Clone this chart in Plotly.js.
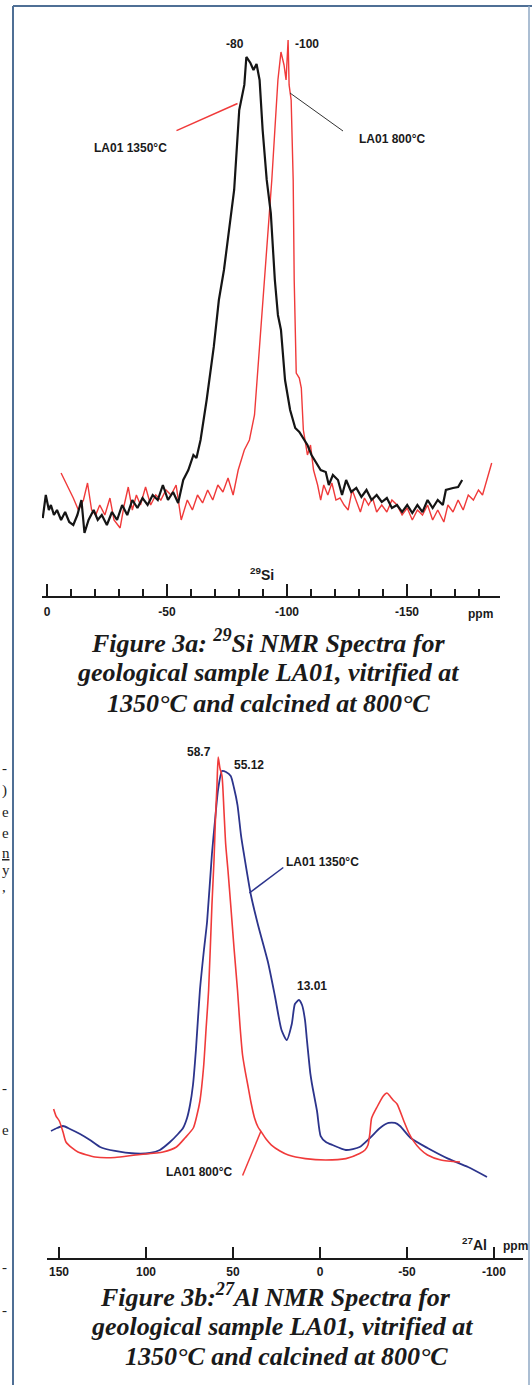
<!DOCTYPE html>
<html>
<head>
<meta charset="utf-8">
<script src="https://cdn.plot.ly/plotly-3.0.1.min.js"></script>
<style>
html,body{margin:0;padding:0;background:#fff;}
#chart{width:532px;height:1385px;}
</style>
</head>
<body>
<div id="chart"></div>
<script>
// ---------- 29Si spectra (ppm, relative intensity) ----------
const siPpm1350 = [1.77,0.50,-0.78,-1.63,-2.90,-4.17,-5.87,-7.56,-9.26,-10.96,-12.65,-14.35,-15.62,-17.32,-19.44,-21.14,-22.83,-24.95,-27.08,-29.20,-31.32,-33.44,-35.56,-37.68,-39.80,-41.92,-44.04,-46.16,-48.28,-50.41,-52.53,-54.65,-56.77,-58.89,-61.01,-62.28,-63.98,-66.52,-69.49,-71.61,-73.73,-75.85,-77.98,-80.10,-82.22,-83.07,-84.76,-86.04,-87.31,-88.58,-89.85,-91.55,-93.25,-94.94,-96.22,-97.49,-99.18,-101.30,-103.43,-105.13,-106.82,-108.52,-110.21,-111.91,-114.03,-116.15,-117.42,-119.12,-121.24,-122.94,-124.64,-126.76,-128.88,-131.00,-133.12,-135.24,-137.36,-139.48,-141.60,-143.72,-145.84,-147.96,-150.08,-152.21,-154.33,-156.45,-158.57,-160.69,-162.81,-164.93,-166.20,-169.17,-171.29,-172.99];
const siInt1350 = [14.45,18.71,15.93,16.86,15.0,15.93,14.08,15.56,13.71,13.15,15.0,17.78,11.67,14.08,15.93,14.08,15.0,13.15,15.56,14.08,16.86,15.0,17.78,16.30,18.15,16.86,18.71,17.78,20.56,17.78,19.27,17.23,21.49,23.34,26.12,25.57,28.9,36.31,46.13,54.83,60.39,67.80,75.21,90.03,94.67,99.85,98.74,97.44,98.55,95.59,86.33,77.07,70.95,58.54,52.06,49.28,40.01,34.46,31.12,30.38,29.27,27.97,26.12,24.82,23.34,22.97,20.56,22.42,21.49,18.71,21.49,19.27,20.01,18.34,19.64,17.78,18.71,17.41,18.15,16.30,16.86,15.56,16.86,15.37,16.86,15.56,17.78,16.30,17.78,16.86,19.64,20.01,20.19,21.49];

const siPpm800 = [-5.87,-8.41,-10.96,-13.08,-15.20,-16.89,-18.59,-20.29,-21.98,-24.11,-26.23,-27.92,-30.47,-32.17,-33.86,-35.56,-37.25,-38.95,-41.07,-43.19,-45.31,-47.43,-49.56,-51.68,-53.80,-55.92,-58.46,-60.59,-62.71,-64.83,-66.95,-69.07,-71.19,-73.31,-75.43,-77.55,-79.67,-82.22,-84.34,-86.46,-88.58,-90.70,-92.40,-93.67,-94.94,-96.22,-97.49,-98.76,-99.61,-100.46,-100.88,-101.73,-102.58,-103.00,-103.85,-105.13,-105.97,-106.82,-108.52,-109.79,-111.06,-112.76,-114.03,-115.31,-117.00,-118.70,-120.39,-122.09,-123.79,-125.48,-127.18,-128.88,-130.58,-132.27,-133.97,-135.66,-137.36,-139.48,-141.60,-143.72,-145.84,-147.96,-150.08,-152.21,-154.33,-156.45,-158.57,-160.69,-162.81,-165.35,-167.05,-169.17,-171.29,-173.41,-175.53,-177.66,-179.78,-181.47,-183.17,-185.29];
const siInt800 = [22.79,20.56,18.15,15.93,17.78,20.93,15.93,15.0,16.86,15.0,18.15,14.08,12.60,16.86,20.19,15.93,18.71,16.86,20.19,16.86,18.71,17.78,19.64,18.71,20.56,14.08,17.78,15.93,18.71,17.23,19.64,17.78,20.56,19.27,21.86,18.71,23.34,27.05,28.9,33.53,46.13,60.39,69.66,77.07,86.33,95.59,100.78,98.37,95.59,103.0,94.67,91.89,77.07,58.54,41.31,40.38,38.53,30.75,26.12,27.97,23.34,20.56,17.78,20.56,18.71,20.93,17.78,18.15,16.86,15.93,19.64,17.78,15.56,18.15,16.86,18.15,15.56,16.86,15.56,17.78,16.86,15.0,16.30,14.08,15.93,15.0,16.86,14.08,15.93,13.71,16.86,15.56,17.78,15.93,18.71,17.78,19.64,18.71,21.49,24.64];

// ---------- 27Al spectra (ppm, relative intensity) ----------
const alPpm1350 = [154.6,151.1,147.7,143.7,137.9,132.2,126.4,117.8,106.3,97.7,92.0,86.2,81.6,78.7,76.4,74.7,73.0,71.3,69.0,66.7,64.9,62.1,60.3,58.6,56.3,54.0,51.3,49.4,47.4,45.4,43.7,39.7,35.6,29.9,25.9,22.1,19.1,16.2,14.4,12.1,10.3,8.6,7.5,5.5,4.6,1.7,-0.4,-3.4,-7.2,-14.9,-22.8,-28.7,-34.5,-39.4,-43.1,-46.0,-52.1,-61.8,-73.6,-85.1,-96.0];
const alInt1350 = [25.35,25.95,26.35,25.75,24.75,23.55,22.16,21.36,20.86,20.96,21.56,23.15,24.75,25.95,27.94,30.54,34.53,41.52,53.49,61.48,67.07,80.64,87.43,93.41,97.21,97.01,96.21,93.81,90.42,84.43,80.64,72.46,66.47,59.08,52.30,45.51,43.51,46.71,50.70,51.50,50.50,47.50,43.51,36.73,34.73,29.34,24.35,23.15,22.55,21.56,22.16,23.95,25.95,26.95,26.95,26.35,23.95,21.96,19.84,18.16,16.17];

const alPpm800 = [153.1,151.7,149.8,147.7,146.0,142.5,139.1,129.3,117.8,105.9,90.2,82.5,77.6,72.8,70.7,69.0,66.9,65.5,64.0,62.1,60.9,60.1,59.2,58.5,57.5,56.3,55.2,54.2,52.9,51.3,49.4,47.4,46.0,44.5,43.1,41.6,39.7,37.6,35.6,33.9,31.0,27.9,23.0,18.2,8.4,-3.3,-14.9,-22.8,-25.9,-27.6,-28.7,-29.7,-32.6,-36.4,-38.5,-40.2,-42.0,-44.3,-48.2,-51.1,-54.0,-57.5,-61.8,-69.5,-80.5];
const alInt800 = [29.74,28.34,27.35,25.15,23.15,21.96,21.16,20.16,20.06,20.56,21.16,22.16,23.95,25.95,28.54,31.34,38.12,45.51,53.49,70.46,79.44,87.43,94.41,100.0,97.80,96.21,89.42,82.63,77.45,70.46,61.88,53.49,46.51,40.52,37.52,34.73,31.14,27.94,26.15,25.27,23.75,22.55,21.36,20.56,19.84,19.56,19.84,20.86,21.56,22.55,24.95,27.94,30.00,32.34,32.93,32.34,31.54,30.74,27.35,24.95,23.23,21.76,20.56,19.56,19.16];

// ---------- tick labels ----------
const siTickVals = [0,-50,-100,-150];
const siTickText = ['0','-50','-100','-150'];
const alTickVals = [150,100,50,0,-50,-100];
const alTickText = ['150','100','50','0','-50','-100'];

const W = 532, H = 1385;
const px = v => v / W;
const py = v => 1 - v / H;

const RED = 'rgb(240,58,58)';
const BLACK = '#151515';
const BLUE = 'rgb(44,52,140)';

const traces = [
  {x: siPpm800, y: siInt800, xaxis:'x', yaxis:'y', mode:'lines', line:{color:RED, width:1.4}, hoverinfo:'skip'},
  {x: siPpm1350, y: siInt1350, xaxis:'x', yaxis:'y', mode:'lines', line:{color:BLACK, width:2.2}, hoverinfo:'skip'},
  {x: alPpm1350, y: alInt1350, xaxis:'x2', yaxis:'y2', mode:'lines', line:{color:BLUE, width:1.8, shape:'spline', smoothing:0.6}, hoverinfo:'skip'},
  {x: alPpm800, y: alInt800, xaxis:'x2', yaxis:'y2', mode:'lines', line:{color:RED, width:1.6, shape:'spline', smoothing:0.6}, hoverinfo:'skip'}
];

const tickFont = {family:'Liberation Sans, Arial, sans-serif', size:12, color:'#1a1a1a', weight:'bold'};
const lblFont = {family:'Liberation Sans, Arial, sans-serif', size:12, color:'#1a1a1a', weight:'bold'};
const capFont = {family:'Liberation Serif, Times New Roman, serif', size:26, color:'#1a1a1a', weight:'bold', style:'italic'};
const sideFont = {family:'Liberation Serif, Times New Roman, serif', size:15, color:'#222'};

function ann(text, x, y, font, extra) {
  return Object.assign({text:text, x:px(x), y:py(y), xref:'paper', yref:'paper', showarrow:false,
    xanchor:'center', yanchor:'middle', font:font}, extra || {});
}
function seg(x0, y0, x1, y1, color, width) {
  return {type:'line', xref:'paper', yref:'paper', x0:px(x0), y0:py(y0), x1:px(x1), y1:py(y1),
    line:{color:color, width:width}};
}

const layout = {
  width: W, height: H,
  margin: {l:0, r:0, t:0, b:0},
  paper_bgcolor:'#fff', plot_bgcolor:'rgba(0,0,0,0)',
  showlegend:false,
  xaxis: {domain:[px(42), px(500)], range:[2.08, -188.75], anchor:'y',
    showline:true, linecolor:'#1a1a1a', linewidth:1.6, showgrid:false, zeroline:false,
    tickmode:'array', tickvals:siTickVals, ticktext:siTickText,
    ticks:'inside', ticklen:12, tickwidth:1.6, tickcolor:'#1a1a1a',
    minor:{dtick:10, tick0:0, ticks:'inside', ticklen:7, tickwidth:1.4, tickcolor:'#1a1a1a', showgrid:false},
    tickfont:tickFont, ticklabelstandoff:4, fixedrange:true},
  yaxis: {domain:[py(596), py(30)], range:[0, 104.85], visible:false, fixedrange:true},
  xaxis2: {domain:[px(47), px(523)], range:[156.9, -116.7], anchor:'y2',
    showline:true, linecolor:'#1a1a1a', linewidth:1.6, showgrid:false, zeroline:false,
    tickmode:'array', tickvals:alTickVals, ticktext:alTickText,
    ticks:'inside', ticklen:11, tickwidth:1.6, tickcolor:'#1a1a1a',
    tickfont:tickFont, ticklabelstandoff:2, fixedrange:true},
  yaxis2: {domain:[py(1258), py(740)], range:[0, 103.4], visible:false, fixedrange:true},
  annotations: [
    ann('-80', 235, 44, lblFont),
    ann('-100', 307, 44, lblFont),
    ann('LA01 1350°C', 130, 148, lblFont),
    ann('LA01 800°C', 392, 139, lblFont),
    ann('<sup>29</sup>Si', 262, 574, {family:'Liberation Sans, Arial, sans-serif', size:14, color:'#1a1a1a', weight:'bold'}),
    ann('ppm', 480, 614, tickFont),
    ann('Figure 3a: <sup>29</sup>Si NMR Spectra for', 268, 642, capFont),
    ann('geological sample LA01, vitrified at', 268, 672, capFont),
    ann('1350°C and calcined at 800°C', 268, 703, capFont),
    ann('58.7', 199, 752, lblFont),
    ann('55.12', 249, 765, lblFont),
    ann('LA01 1350°C', 322, 862, lblFont),
    ann('13.01', 312, 986, lblFont),
    ann('LA01 800°C', 199, 1172, lblFont),
    ann('<sup>27</sup>Al', 474, 1244, {family:'Liberation Sans, Arial, sans-serif', size:14, color:'#1a1a1a', weight:'bold'}),
    ann('ppm', 515, 1246, tickFont),
    ann('Figure 3b:<sup>27</sup>Al NMR Spectra for', 275, 1295, capFont),
    ann('geological sample LA01, vitrified at', 282, 1326, capFont),
    ann('1350°C and calcined at 800°C', 286, 1356, capFont),
    ann('-', 0, 768, sideFont, {xanchor:'left'}),
    ann(')', 0, 790, sideFont, {xanchor:'left'}),
    ann('e', 0, 812, sideFont, {xanchor:'left'}),
    ann('e', 0, 833, sideFont, {xanchor:'left'}),
    ann('<u>n</u>', 0, 853, sideFont, {xanchor:'left'}),
    ann('y', 0, 870, sideFont, {xanchor:'left'}),
    ann(',', 0, 887, sideFont, {xanchor:'left'}),
    ann('-', 0, 1088, sideFont, {xanchor:'left'}),
    ann('e', 0, 1130, sideFont, {xanchor:'left'}),
    ann('-', 0, 1267, sideFont, {xanchor:'left'}),
    ann('-', 0, 1310, sideFont, {xanchor:'left'})
  ],
  shapes: [
    seg(176.5, 130.6, 237.5, 103.5, RED, 1.5),
    seg(290, 93, 343, 131, '#333', 1),
    seg(283.3, 867.5, 249.4, 893, BLUE, 1.5),
    seg(261, 1131, 242.6, 1175.5, RED, 1.5),
    seg(13, 6, 13, 1385, '#4f6f95', 2),
    seg(13, 6, 532, 6, '#4f6f95', 2),
    seg(529, 6, 529, 1385, '#8fa8c4', 1.5)
  ]
};

Plotly.newPlot('chart', traces, layout, {staticPlot:true, displayModeBar:false});
</script>
</body>
</html>
